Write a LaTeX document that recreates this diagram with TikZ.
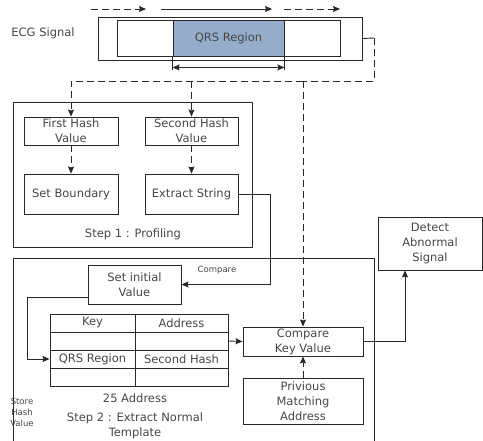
\documentclass[tikz,border=0pt]{standalone}
\usepackage{fontspec}
\setmainfont{DejaVu Sans}
\usepackage{tikz}
\usetikzlibrary{arrows.meta, positioning}

\definecolor{qrsblue}{RGB}{149,172,203}
\definecolor{linegray}{RGB}{40,40,40}
\definecolor{txtgray}{RGB}{70,70,70}

\begin{document}
\begin{tikzpicture}[
            x=1pt, y=-1pt,
            >={Stealth[length=7pt, width=6pt, inset=1pt]},
            line width=0.9pt,
            color=linegray,
            every node/.style={text=txtgray, font=\fontsize{11.5}{15}\selectfont},
            box/.style={draw, rectangle, inner sep=0pt, align=center},
            cell/.style={draw, rectangle, inner sep=0pt, minimum height=18pt},
            small/.style={font=\fontsize{8.5}{11}\selectfont, align=center},
            dashline/.style={dashed, dash pattern=on 7pt off 4pt}]
            \useasboundingbox (0,0) rectangle (483,441);

            % ECG signal strip
            \node [box, minimum width=264pt, minimum height=43pt] (ecg) at (230,38.5) {};
            \node [box, minimum width=223pt, minimum height=36pt] (strip) at (228.5,38) {};
            \node [box, fill=qrsblue, minimum width=111pt, minimum height=36pt] (qrs) at (228.5,38) {QRS Region};
            \node (ecglbl) at (43,33) {ECG Signal};

            \coordinate (d1s) at (91,9);
            \coordinate (d1e) at (146,9);
            \coordinate (s1s) at (161,9);
            \coordinate (s1e) at (272,9);
            \coordinate (d2s) at (284,9);
            \coordinate (d2e) at (340,9);
            \draw [->, dashline] (d1s) -- (d1e);
            \draw [->] (s1s) -- (s1e);
            \draw [->, dashline] (d2s) -- (d2e);

            \draw (qrs.south west) -- ++(0,14);
            \draw (qrs.south east) -- ++(0,14);
            \draw [<->] ([yshift=-11pt]qrs.south west) -- ([yshift=-11pt]qrs.south east);

            % Step 1
            \node [box, minimum width=239pt, minimum height=145pt] (step1) at (132.5,174.5) {};
            \node [box, minimum width=94pt, minimum height=28pt] (hash1) at (71,131) {First Hash\\Value};
            \node [box, minimum width=93pt, minimum height=28pt] (hash2) at (191.5,131) {Second Hash\\Value};
            \node [box, minimum width=94pt, minimum height=40pt] (bound) at (71,194) {Set Boundary};
            \node [box, minimum width=93pt, minimum height=40pt] (extract) at (191.5,194) {Extract String};
            \node (s1lbl) at (133,234) {Step 1 : Profiling};

            % Step 2
            \node [draw, minimum width=361pt, minimum height=200pt, anchor=north west] (step2) at (13,258) {};
            \node [box, minimum width=93pt, minimum height=39pt] (init) at (134.5,284.5) {Set initial\\Value};
            \node [cell, minimum width=85pt] (k1) at (92.5,323) {Key};
            \node [cell, minimum width=93pt] (a1) at (181.5,323) {Address};
            \node [cell, minimum width=85pt] (k2) at (92.5,341) {};
            \node [cell, minimum width=93pt] (a2) at (181.5,341) {};
            \node [cell, minimum width=85pt] (k3) at (92.5,359) {QRS Region};
            \node [cell, minimum width=93pt] (a3) at (181.5,359) {Second Hash};
            \node [cell, minimum width=85pt] (k4) at (92.5,377) {};
            \node [cell, minimum width=93pt] (a4) at (181.5,377) {};
            \node (addr) at (135,398) {25 Address};
            \node [align=center] (s2lbl) at (135,426) {Step 2 : Extract Normal\\Template};
            \node [small] (store) at (22,412) {Store\\Hash\\Value};
            \node [small] (cmplbl) at (217,270) {Compare};

            \node [box, minimum width=120pt, minimum height=29pt] (cmp) at (303,341.5) {Compare\\Key Value};
            \node [box, minimum width=120pt, minimum height=46pt] (prev) at (303,401) {Privious\\Matching\\Address};
            \node [box, minimum width=104pt, minimum height=53pt] (detect) at (430,243.5) {Detect\\Abnormal\\Signal};

            % connectors
            \coordinate (tap) at (374,38);
            \coordinate (split) at (303,81);
            \draw (ecg.east) -- (tap);
            \draw [dashline] (tap) |- (split);
            \draw [->, dashline] (split) -| (hash1.north);
            \draw [->, dashline] (hash2.north |- split) -- (hash2.north);
            \draw [->, dashline] (split) -- (cmp.north);

            \draw [->, dashline] (hash1) -- (bound);
            \draw [->, dashline] (hash2) -- (extract);

            \draw [->] (extract.east) -- ++(32,0) |- (init.east);
            \draw [->] ([yshift=7pt]init.south west) -- ++(-60,0) |- (k3.west);
            \draw [->] (a2.east) -- (cmp.west);
            \draw [->, dashline] (prev) -- (cmp);
            \draw [->] (cmp.east) -| ([xshift=-25pt]detect.south);

        \end{tikzpicture}
\end{document}
